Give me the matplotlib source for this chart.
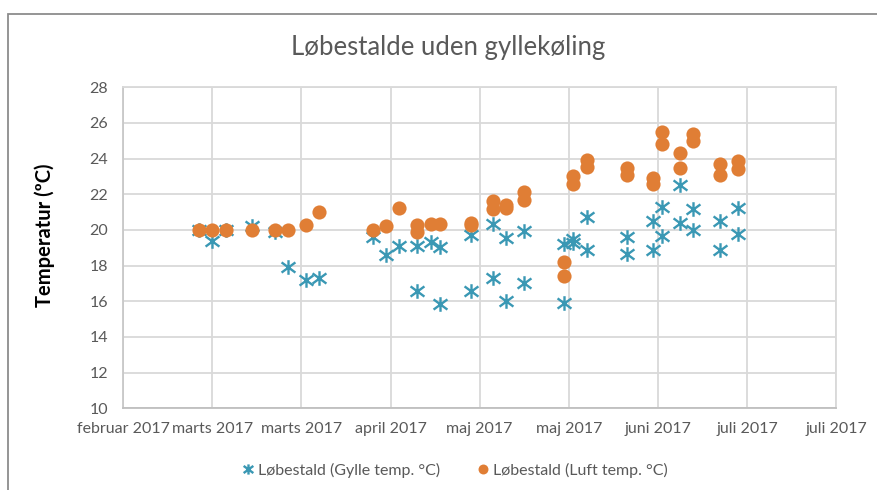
import matplotlib
matplotlib.use('Agg')
import matplotlib.pyplot as plt
import matplotlib.dates as mdates
from matplotlib.path import Path
from matplotlib.patches import Rectangle
import numpy as np

plt.rcParams['font.family'] = ['Lato', 'DejaVu Sans']

# Slurry temperature (stars)
gylle_dates = ['2017-03-03', '2017-03-06', '2017-03-09', '2017-03-15', '2017-03-20',
               '2017-03-23', '2017-03-27', '2017-03-30', '2017-04-11', '2017-04-14',
               '2017-04-17', '2017-04-21', '2017-04-21', '2017-04-24', '2017-04-26',
               '2017-04-26', '2017-05-03', '2017-05-03', '2017-05-08', '2017-05-08',
               '2017-05-11', '2017-05-11', '2017-05-15', '2017-05-15', '2017-05-24',
               '2017-05-24', '2017-05-26', '2017-05-26', '2017-05-29', '2017-05-29',
               '2017-06-07', '2017-06-07', '2017-06-13', '2017-06-13', '2017-06-15',
               '2017-06-15', '2017-06-19', '2017-06-19', '2017-06-22', '2017-06-22',
               '2017-06-28', '2017-06-28', '2017-07-02', '2017-07-02']
gylle_temp = [20.0, 19.4, 20.0, 20.2, 19.9,
              17.9, 17.2, 17.3, 19.6, 18.6,
              19.1, 19.1, 16.6, 19.35, 19.05,
              15.85, 19.7, 16.6, 20.35, 17.3,
              19.55, 16.0, 19.95, 17.0, 19.2,
              15.9, 19.5, 19.25, 20.7, 18.9,
              19.6, 18.65, 20.5, 18.9, 21.3,
              19.65, 22.5, 20.4, 21.15, 20.0,
              20.5, 18.9, 21.25, 19.8]

# Air temperature (circles)
luft_dates = ['2017-03-03', '2017-03-06', '2017-03-09', '2017-03-15', '2017-03-20',
              '2017-03-23', '2017-03-27', '2017-03-30', '2017-04-11', '2017-04-14',
              '2017-04-17', '2017-04-21', '2017-04-21', '2017-04-24', '2017-04-26',
              '2017-05-03', '2017-05-03', '2017-05-08', '2017-05-08', '2017-05-11',
              '2017-05-11', '2017-05-15', '2017-05-15', '2017-05-24', '2017-05-24',
              '2017-05-26', '2017-05-26', '2017-05-29', '2017-05-29', '2017-06-07',
              '2017-06-07', '2017-06-13', '2017-06-13', '2017-06-15', '2017-06-15',
              '2017-06-19', '2017-06-19', '2017-06-22', '2017-06-22', '2017-06-28',
              '2017-06-28', '2017-07-02', '2017-07-02']
luft_temp = [20.0, 20.0, 20.0, 20.0, 20.0,
             20.0, 20.3, 21.0, 20.0, 20.2,
             21.25, 20.3, 19.9, 20.35, 20.35,
             20.4, 20.3, 21.6, 21.2, 21.4,
             21.25, 22.15, 21.7, 18.2, 17.4,
             23.0, 22.6, 23.9, 23.55, 23.45,
             23.1, 22.9, 22.6, 25.5, 24.8,
             24.3, 23.5, 25.4, 25.0, 23.7,
             23.1, 23.85, 23.4]

x_start = '2017-02-14'
x_end = '2017-07-24'
x_tick_labels = ['februar 2017', 'marts 2017', 'marts 2017', 'april 2017', 'maj 2017',
                 'maj 2017', 'juni 2017', 'juli 2017', 'juli 2017']
y_ticks = [10, 12, 14, 16, 18, 20, 22, 24, 26, 28]

teal = '#3A98B4'
orange = '#E07E35'
grey_txt = '#595959'
grid_c = '#D9D9D9'

# Excel-like asterisk marker (vertical bar + two diagonals)
star = Path([(0, -1), (0, 1), (-0.95, -0.7), (0.95, 0.7), (-0.95, 0.7), (0.95, -0.7)],
            [Path.MOVETO, Path.LINETO, Path.MOVETO, Path.LINETO, Path.MOVETO, Path.LINETO])

fig = plt.figure(figsize=(8.78, 4.9), dpi=100)
W, H = 878, 490
ax = fig.add_axes([123.3 / W, (H - 408.3) / H, (836 - 123.3) / W, (408.3 - 87.3) / H])

gd = mdates.date2num(np.array(gylle_dates, dtype='datetime64[D]'))
ld = mdates.date2num(np.array(luft_dates, dtype='datetime64[D]'))

ax.plot(gd, gylle_temp, linestyle='none', marker=star, markersize=10.5,
        markeredgewidth=1.7, color=teal, label='Løbestald (Gylle temp. °C)', zorder=3)
ax.plot(ld, luft_temp, linestyle='none', marker='o', markersize=10.2,
        markeredgewidth=0, color=orange, label='Løbestald (Luft temp. °C)', zorder=4)

x0 = mdates.date2num(np.datetime64(x_start))
x1 = mdates.date2num(np.datetime64(x_end))
ax.set_xlim(x0, x1)
ax.set_xticks(np.linspace(x0, x1, len(x_tick_labels)))
ax.set_xticklabels(x_tick_labels)
ax.set_ylim(10, 28)
ax.set_yticks(y_ticks)

ax.grid(True, color=grid_c, linewidth=1.3)
ax.set_axisbelow(True)
for s in ['top', 'right']:
    ax.spines[s].set_color(grid_c)
    ax.spines[s].set_linewidth(1.3)
ax.spines['left'].set_color('#C8C8C8')
ax.spines['left'].set_linewidth(1.3)
ax.spines['bottom'].set_color('#BFBFBF')
ax.spines['bottom'].set_linewidth(1.3)
ax.tick_params(axis='both', length=0, labelsize=11.5, labelcolor=grey_txt)
ax.tick_params(axis='x', pad=10)
ax.tick_params(axis='y', pad=11)

fig.text(448 / W, 1 - 47 / H, 'Løbestalde uden gyllekøling', ha='center', va='center',
         fontsize=18.5, color=grey_txt)
fig.text(45 / W, 1 - 235 / H, 'Temperatur (ºC)', rotation=90, ha='center', va='center',
         fontsize=14.5, fontweight='bold', color='black')

fig.legend(loc='center', bbox_to_anchor=(454 / W, 1 - 470.5 / H), ncol=2, frameon=False,
           fontsize=11.5, labelcolor=grey_txt, handletextpad=0.1, columnspacing=2.2,
           handlelength=1.0, markerscale=0.7)

# outer chart border (cut off at right and bottom)
fig.patches.append(Rectangle((8 / W, -0.05), 1.0, 1 - 14 / H + 0.05, transform=fig.transFigure,
                             fill=False, edgecolor='#8C8C8C', linewidth=1.3))

fig.savefig('out.png', dpi=100)
